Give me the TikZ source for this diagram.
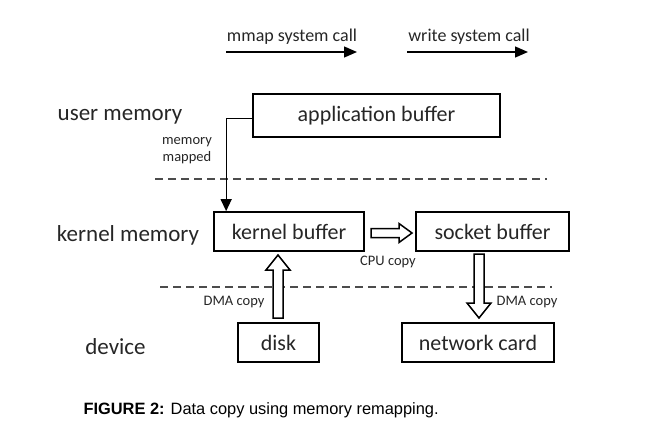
\documentclass[tikz,border=0pt]{standalone}
\usepackage{fontspec}
\setmainfont{Carlito}
\newfontfamily\capfont{Liberation Sans}
\usetikzlibrary{arrows.meta}
\usepackage{xcolor}
\colorlet{mytext}{black!85}
\colorlet{mydash}{black!70}
\tikzset{
  >=latex, % default arrow head
  buffer/.style={draw=black,line width=1.7,inner sep=0,minimum height=39,font=\fontsize{22}{26}\selectfont,text=mytext},
  level/.style={font=\fontsize{23}{27}\selectfont,text=mytext},
  small label/.style={font=\fontsize{14.5}{17}\selectfont,text=mytext,align=center},
  call label/.style={font=\fontsize{18}{22}\selectfont,text=mytext},
  call arrow/.style={-{Triangle[length=13,width=11]},line width=1.3},
  connect arrow/.style={-{Triangle[length=12,width=11]},line width=1.3},
  boundary/.style={mydash,line width=1.5,dash pattern=on 8 off 5},
  fat arrow/.style={draw=black,line width=1.5,fill=white,line join=miter}
}
% hollow block arrow: start, length, angle, shaft half width, head half width, head length
\newcommand{\fatarrow}[6]{%
  \draw[fat arrow,shift={(#1)},rotate=#3] (0,-#4) -- (#2-#6,-#4) -- (#2-#6,-#5) -- (#2,0)
    -- (#2-#6,#5) -- (#2-#6,#4) -- (0,#4) -- cycle;}
\begin{document}
\begin{tikzpicture}[x=1pt,y=-1pt]
    \useasboundingbox (0,0) rectangle (670,431);
    % system calls
    \node[call label] (mmap) at (292,37) {mmap system call};
    \node[call label] (write) at (469,37) {write system call};
    \coordinate (mmap start) at (226,52);
    \coordinate (mmap end) at (357,52);
    \coordinate (write start) at (407,52);
    \coordinate (write end) at (528,52);
    \draw[call arrow] (mmap start) -- (mmap end);
    \draw[call arrow] (write start) -- (write end);
    % levels
    \node[level] (user) at (120,117) {user memory};
    \node[level] (kernel) at (128,235) {kernel memory};
    \node[level] (device) at (115.5,347) {device};
    % buffers and devices
    \node[buffer,minimum width=247,minimum height=43] (app) at (376.5,115.5) {application buffer};
    \node[buffer,minimum width=150] (kbuf) at (289,231.5) {kernel buffer};
    \node[buffer,minimum width=153] (sbuf) at (492.5,231.5) {socket buffer};
    \node[buffer,minimum width=81] (disk) at (278.5,342.5) {disk};
    \node[buffer,minimum width=152] (net) at (478,342.5) {network card};
    % boundaries
    \coordinate (b1 left) at (155,179);
    \coordinate (b1 right) at (547,179);
    \coordinate (b2 left) at (160,287);
    \coordinate (b2 right) at (552,287);
    \draw[boundary] (b1 left) -- (b1 right);
    \draw[boundary] (b2 left) -- (b2 right);
    % memory mapping
    \draw[connect arrow] ([yshift=-3]app.west) -| ([xshift=13]kbuf.north west);
    \node[small label] (mapped) at (187,151) {memory\\mapped};
    % copies
    \fatarrow{278,318}{63}{90}{5}{12}{15}
    \fatarrow{479,254}{64}{-90}{5}{12}{15}
    \fatarrow{371,233}{41}{0}{4.5}{9.5}{13}
    \node[small label] (cpu) at (388,262) {CPU copy};
    \node[small label] (dma1) at (234,302) {DMA copy};
    \node[small label] (dma2) at (527,302) {DMA copy};
    % caption
    \node[anchor=west,font=\capfont\fontsize{16.4}{20}\selectfont] (caption) at (80,410) {\textbf{FIGURE 2:} Data copy using memory remapping.};
\end{tikzpicture}
\end{document}
